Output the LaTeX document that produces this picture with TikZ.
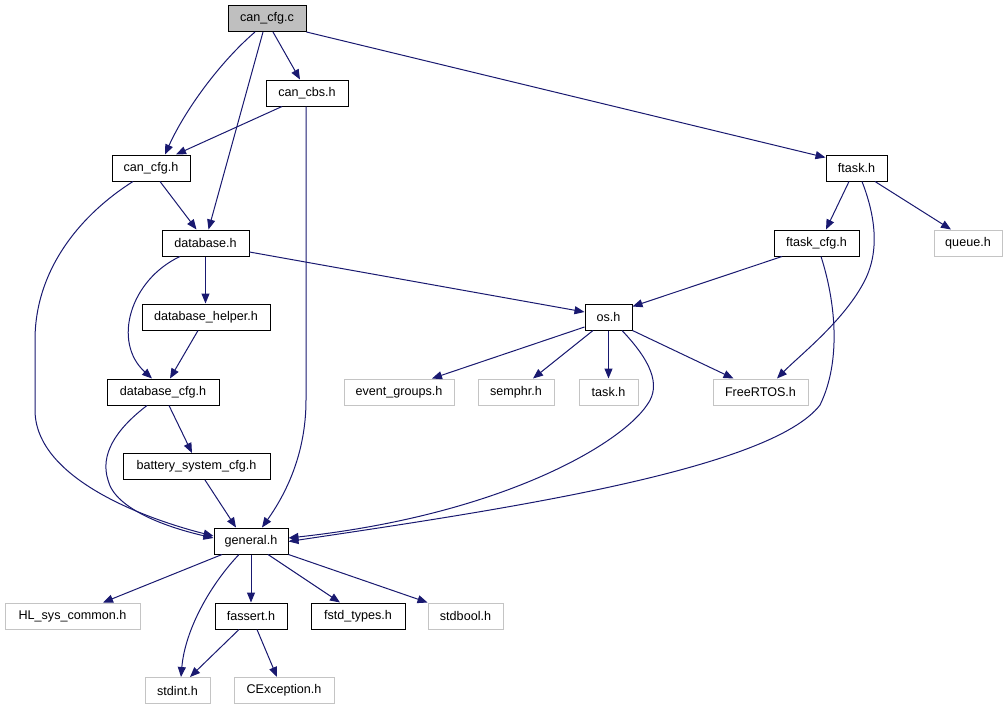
\documentclass[tikz,border=0pt]{standalone}
\usepackage{fontspec}
\setmainfont{Liberation Sans}
\usetikzlibrary{arrows.meta}
\definecolor{edgecol}{HTML}{191970}
\definecolor{extgray}{HTML}{C4C4C4}
\definecolor{rootfill}{HTML}{BFBFBF}
\tikzset{
  box/.style={draw=black, line width=1pt, rectangle, inner sep=0pt, minimum height=26pt,
    text=black, font=\fontsize{12.6}{14}\selectfont},
  extbox/.style={box, draw=extgray},
  edge/.style={draw=edgecol, line width=1pt, -{Triangle[length=10pt,width=8pt]}, fill=none},
}
\begin{document}
\begin{tikzpicture}[x=1pt,y=1pt]
\useasboundingbox (0,0) rectangle (1008,-709);
% nodes
\node[box, fill=rootfill, minimum width=78pt] (cfgc) at (267,-18.5) {can\_cfg.c};
\node[box, minimum width=82pt] (cbs) at (307,-93) {can\_cbs.h};
\node[box, minimum width=78pt] (cfgh) at (151,-168) {can\_cfg.h};
\node[box, minimum width=87pt] (db) at (205.5,-243) {database.h};
\node[box, minimum width=61pt] (ftask) at (856.5,-168) {ftask.h};
\node[box, minimum width=85pt] (ftcfg) at (816.5,-243) {ftask\_cfg.h};
\node[extbox, minimum width=68pt] (queue) at (968,-243) {queue.h};
\node[box, minimum width=128pt] (dbh) at (206,-317) {database\_helper.h};
\node[box, minimum width=47pt] (os) at (608.5,-317) {os.h};
\node[box, minimum width=112pt] (dbcfg) at (163,-392) {database\_cfg.h};
\node[extbox, minimum width=110pt] (evg) at (399,-392) {event\_groups.h};
\node[extbox, minimum width=76pt] (semphr) at (516,-392) {semphr.h};
\node[extbox, minimum width=59pt] (task) at (608.5,-392) {task.h};
\node[extbox, minimum width=95pt] (frtos) at (760.5,-392) {FreeRTOS.h};
\node[box, minimum width=147pt] (bsc) at (196.5,-466.5) {battery\_system\_cfg.h};
\node[box, minimum width=74pt] (gen) at (251,-541) {general.h};
\node[extbox, minimum width=135pt] (hl) at (72.5,-616) {HL\_sys\_common.h};
\node[box, minimum width=72pt] (fassert) at (251,-616) {fassert.h};
\node[box, minimum width=94pt] (fstd) at (358,-616) {fstd\_types.h};
\node[extbox, minimum width=75pt] (stdbool) at (465.5,-616) {stdbool.h};
\node[extbox, minimum width=65pt] (stdint) at (177.5,-690.5) {stdint.h};
\node[extbox, minimum width=100pt] (cexc) at (284,-690.5) {CException.h};
% edges
\draw[edge] ([xshift=-12pt]cfgc.south) .. controls (220,-62) and (185,-110) .. ([xshift=14pt]cfgh.north);
\draw[edge] ([xshift=-4pt]cfgc.south) -- ([xshift=3pt]db.north);
\draw[edge] ([xshift=6pt]cfgc.south) -- ([xshift=-7pt]cbs.north);
\draw[edge] (cfgc.south east) -- ([yshift=-3pt]ftask.north west);
\draw[edge] ([xshift=-25pt]cbs.south) -- ([xshift=25pt]cfgh.north);
\draw[edge] ([xshift=-1pt]cbs.south) -- (306,-400) .. controls (306,-455) and (285,-495) .. ([xshift=11pt]gen.north);
\draw[edge] ([xshift=9pt]cfgh.south) -- ([xshift=-9pt]db.north);
\draw[edge] ([xshift=-18pt]cfgh.south) .. controls (80,-215) and (35,-270) .. (35,-340) -- (35,-410) .. controls (35,-480) and (150,-520) .. ([yshift=5pt]gen.west);
\draw[edge] (db.south) -- (db.south |- dbh.north);
\draw[edge] ([xshift=-25.5pt]db.south) .. controls (130,-280) and (112,-342) .. ([xshift=-11pt]dbcfg.north);
\draw[edge] ([yshift=-9pt]db.east) -- ([yshift=5pt]os.west);
\draw[edge] ([xshift=-8pt]dbh.south) -- ([xshift=7pt]dbcfg.north);
\draw[edge] ([xshift=6pt]dbcfg.south) -- ([xshift=-4.5pt]bsc.north);
\draw[edge] ([xshift=-16pt]dbcfg.south) .. controls (115,-430) and (100,-455) .. (108,-480) .. controls (115,-510) and (170,-528) .. ([yshift=3pt]gen.west);
\draw[edge] ([xshift=8.5pt]bsc.south) -- ([xshift=-15pt]gen.north);
\draw[edge] ([xshift=-7.5pt]ftask.south) -- ([xshift=9.5pt]ftcfg.north);
\draw[edge] ([xshift=18.5pt]ftask.south) -- ([xshift=-17pt]queue.north);
\draw[edge] ([xshift=5.5pt]ftask.south) .. controls (875,-215) and (880,-250) .. (865,-280) .. controls (845,-320) and (800,-355) .. ([xshift=16.5pt]frtos.north);
\draw[edge] ([xshift=-34.5pt]ftcfg.south) -- ([yshift=-3pt]os.north east);
\draw[edge] ([xshift=4.5pt]ftcfg.south) .. controls (835,-300) and (842,-360) .. (820,-405) .. controls (770,-470) and (500,-510) .. ([yshift=-0.5pt]gen.east);
\draw[edge] ([yshift=-10pt]os.west) -- ([xshift=33pt]evg.north);
\draw[edge] ([xshift=-15.5pt]os.south) -- ([xshift=17pt]semphr.north);
\draw[edge] (os.south) -- (task.north);
\draw[edge] (os.south east) -- ([xshift=-27pt]frtos.north);
\draw[edge] ([xshift=13.5pt]os.south) .. controls (650,-360) and (662,-385) .. (647,-405) .. controls (620,-445) and (500,-515) .. ([yshift=3pt]gen.east);
\draw[edge] ([xshift=-29pt]gen.south) -- ([xshift=30.5pt]hl.north);
\draw[edge] ([xshift=-12pt]gen.south) .. controls (210,-585) and (185,-630) .. ([xshift=3.5pt]stdint.north);
\draw[edge] (gen.south) -- (fassert.north);
\draw[edge] ([xshift=17pt]gen.south) -- ([xshift=-18pt]fstd.north);
\draw[edge] (gen.south east) -- (stdbool.north west);
\draw[edge] ([xshift=-12pt]fassert.south) -- ([xshift=12.5pt]stdint.north);
\draw[edge] ([xshift=6pt]fassert.south) -- ([xshift=-7pt]cexc.north);
\end{tikzpicture}
\end{document}
